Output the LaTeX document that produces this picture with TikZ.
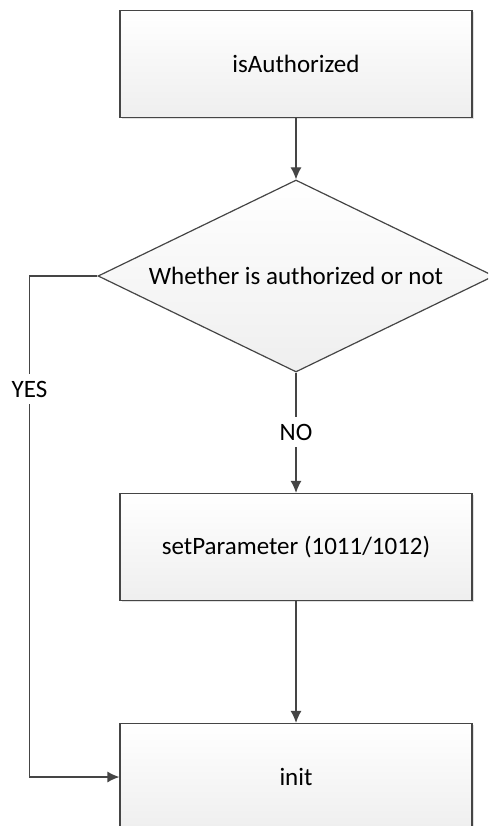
\documentclass[tikz,border=0pt]{standalone}
\usepackage{fontspec}
\setmainfont{Carlito}
\usetikzlibrary{shapes.geometric,arrows.meta,shadows}
\definecolor{linegray}{HTML}{454545}
\tikzset{
  stepbox/.style={draw=linegray, line width=1.2pt, top color=white, bottom color=gray!13,
    minimum width=352pt, minimum height=107pt, inner sep=0pt,
    drop shadow={shadow xshift=1.5pt, shadow yshift=-1.5pt, fill=black, opacity=0.12}},
  choice/.style={diamond, shape aspect=2, draw=linegray, line width=1.2pt, top color=white, bottom color=gray!13,
    minimum width=396pt, minimum height=192pt, inner sep=0pt},
  answer/.style={fill=white, inner sep=7pt},
  flow/.style={draw=linegray, line width=1.2pt},
}
\begin{document}
\begin{tikzpicture}[x=1pt, y=-1pt, font=\fontsize{25}{30}\selectfont]
        \useasboundingbox (0,0) rectangle (488,826);
        \clip (0,0) rectangle (488,826);
        \node[stepbox] at (296,64)  (auth)  {isAuthorized};
        \node[choice]  at (296,276) (check) {Whether is authorized or not};
        \node[stepbox] at (296,547) (param) {setParameter (1011/1012)};
        \node[stepbox] at (296,777) (init)  {init};
        \node[answer]  at (296,432) (no)    {NO};
        \node[answer]  at (29.5,389) (yes)  {YES};
        \draw[flow,-{Latex[length=12pt,width=11pt]}] (auth) -- (check);
        \draw[flow] (check) -- (no);
        \draw[flow,-{Latex[length=12pt,width=11pt]}] (no) -- (param);
        \draw[flow,-{Latex[length=12pt,width=11pt]}] (param) -- (init);
        \draw[flow] (check.west) -| (yes);
        \draw[flow,-{Latex[length=12pt,width=11pt]}] (yes) |- (init.west);
      \end{tikzpicture}
\end{document}
